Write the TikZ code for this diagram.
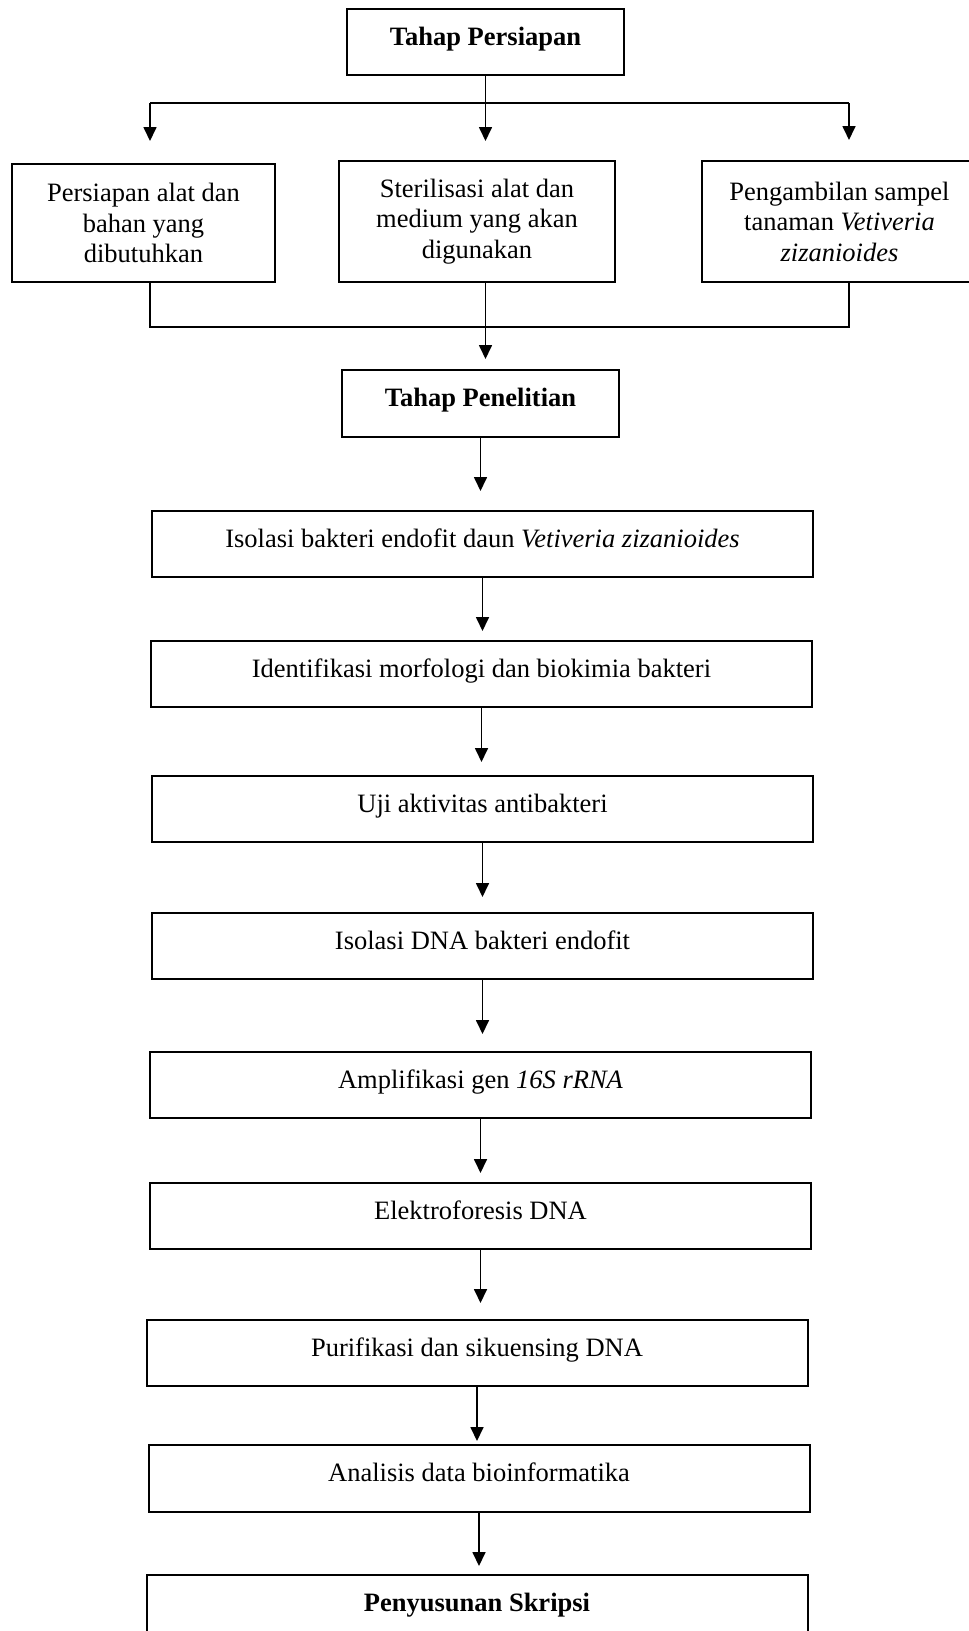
\documentclass[tikz,border=0pt]{standalone}
\usepackage{fontspec}
\setmainfont{Liberation Serif}
\usepackage{tikz}
\usetikzlibrary{arrows.meta}

\tikzset{
  kotak/.style={draw, line width=2pt, inner sep=0pt, align=center,
    font=\fontsize{26.5}{30.5}\selectfont},
  satu/.style={kotak, minimum height=66pt, text height=18pt, text depth=12pt},
  lebar/.style={satu, minimum width=661pt},
  garis/.style={line width=1.8pt},
  panah/.style={line width=1.7pt, -{Triangle[length=14pt,width=13pt]}}
}

\begin{document}
\begin{tikzpicture}[x=1pt, y=-1pt]
    \useasboundingbox (0,0) rectangle (969,1631);
    %Tahap persiapan
    \node[satu, minimum width=277pt] (persiapan) at (485.5,42) {\textbf{Tahap Persiapan}};
    \node[kotak, minimum width=263pt, minimum height=118pt] (alat) at (143.5,223)
        {Persiapan alat dan\\bahan yang\\dibutuhkan};
    \node[kotak, minimum width=276pt, minimum height=121pt] (steril) at (477,221.5)
        {Sterilisasi alat dan\\medium yang akan\\digunakan};
    \node[kotak, minimum width=275pt, minimum height=121pt] (sampel) at (839.5,221.5)
        {Pengambilan sampel\\tanaman \textit{Vetiveria}\\\textit{zizanioides}};
    \coordinate (kiri) at (150,103);
    \coordinate (kanan) at (849,103);
    \coordinate (kiribawah) at (150,327);
    \coordinate (kananbawah) at (849,327);
    \draw[garis] (kiri) -- (kanan);
    \draw[panah, shorten >=22pt] (kiri) -- (kiri |- alat.north);
    \draw[panah, shorten >=19pt] (persiapan.south) -- (persiapan.south |- steril.north);
    \draw[panah, shorten >=20pt] (kanan) -- (kanan |- sampel.north);
    \draw[garis] (kiri |- alat.south) -- (kiribawah) -- (kananbawah) -- (kanan |- sampel.south);
    %Tahap penelitian
    \node[satu, minimum width=277pt, minimum height=67pt] (penelitian) at (480.5,403.5) {\textbf{Tahap Penelitian}};
    \draw[panah, shorten >=10pt] (persiapan.south |- steril.south) -- (persiapan.south |- penelitian.north);
    \node[lebar] (isolasi) at (482.5,544) {Isolasi bakteri endofit daun \textit{Vetiveria zizanioides}};
    \node[lebar] (identifikasi) at (481.5,674) {Identifikasi morfologi dan biokimia bakteri};
    \node[lebar] (uji) at (482.5,809) {Uji aktivitas antibakteri};
    \node[lebar] (isodna) at (482.5,946) {Isolasi DNA bakteri endofit};
    \node[lebar] (amplifikasi) at (480.5,1085) {Amplifikasi gen \textit{16S rRNA}};
    \node[lebar] (elektro) at (480.5,1216) {Elektroforesis DNA};
    \node[lebar] (purifikasi) at (477,1353) {Purifikasi dan sikuensing DNA};
    \node[lebar, minimum height=67pt] (analisis) at (479,1478.5) {Analisis data bioinformatika};
    \node[lebar] (skripsi) at (477,1608) {\textbf{Penyusunan Skripsi}};
    \draw[panah, shorten >=19pt] (penelitian.south) -- (penelitian.south |- isolasi.north);
    \draw[panah, shorten >=9pt] (isolasi.south) -- (isolasi.south |- identifikasi.north);
    \draw[panah, shorten >=13pt] (identifikasi.south) -- (identifikasi.south |- uji.north);
    \draw[panah, shorten >=15pt] (uji.south) -- (uji.south |- isodna.north);
    \draw[panah, shorten >=17pt] (isodna.south) -- (isodna.south |- amplifikasi.north);
    \draw[panah, shorten >=9pt] (amplifikasi.south) -- (amplifikasi.south |- elektro.north);
    \draw[panah, shorten >=16pt] (elektro.south) -- (elektro.south |- purifikasi.north);
    \draw[panah, shorten >=3pt] (purifikasi.south) -- (purifikasi.south |- analisis.north);
    \draw[panah, shorten >=8pt] (analisis.south) -- (analisis.south |- skripsi.north);
\end{tikzpicture}
\end{document}
